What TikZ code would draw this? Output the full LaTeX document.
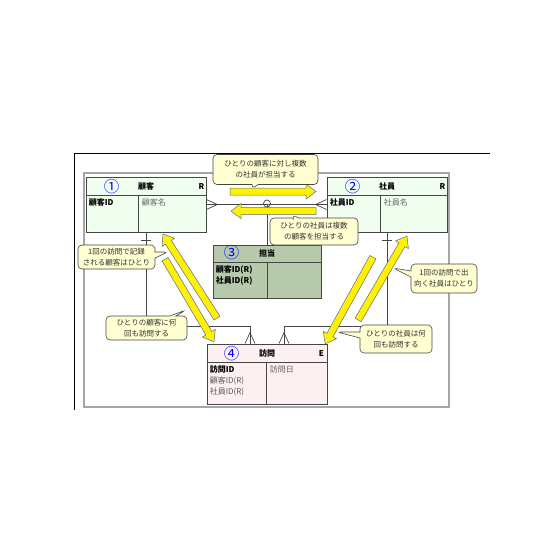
\documentclass[tikz,border=0pt]{standalone}
\usepackage{fontspec}
\setmainfont{Noto Sans CJK JP}
\usetikzlibrary{shapes.callouts}

\definecolor{entgreen}{RGB}{240,254,240}
\definecolor{tangreen}{RGB}{182,201,170}
\definecolor{entpink}{RGB}{253,240,240}
\definecolor{notefill}{RGB}{255,255,210}
\definecolor{linegray}{RGB}{70,70,70}
\definecolor{arrowedge}{RGB}{96,104,150}

\tikzset{
  entity/.style={draw=linegray, line width=0.8pt, inner sep=0pt},
  entline/.style={draw=linegray, line width=0.6pt},
  rel/.style={draw=linegray, line width=0.7pt},
  numlabel/.style={text=blue, font=\fontsize{15.5}{15.5}\selectfont, inner sep=0pt},
  enttitle/.style={font=\fontsize{8}{8}\selectfont\bfseries, inner sep=0pt},
  attr/.style={font=\fontsize{8}{11}\selectfont, align=left, inner sep=0pt, anchor=north west},
  note/.style={rectangle callout, draw=linegray, fill=notefill, rounded corners=4pt, line width=0.6pt,
    callout pointer width=6pt, align=center, inner sep=1pt, text=black!80, font=\fontsize{7.5}{11}\selectfont},
  pics/yarrow/.style={code={
    \draw[draw=arrowedge, fill=yellow, line width=0.5pt] (-#1/2,-3.5) -- (#1/2-10,-3.5) -- (#1/2-10,-7.5)
      -- (#1/2,0) -- (#1/2-10,7.5) -- (#1/2-10,3.5) -- (-#1/2,3.5) -- cycle;}},
  pics/crowfoot/.style={code={\draw[rel] (0,-5) -- (11,0) -- (0,5);}},
  pics/onemark/.style={code={\draw[rel] (8,-5) -- (8,5);}}
}

\begin{document}
\begin{tikzpicture}[x=1pt, y=-1pt]
	\useasboundingbox (0,0) rectangle (560,560);
	% frame
	\draw[black, line width=0.9pt] (74,410) -- (74,153) -- (490,153);
	\draw[gray!70, line width=1.6pt] (84,173) rectangle (449,407);
	
	% entities
	\node[entity, fill=entgreen, minimum width=120pt, minimum height=55pt] (kokyaku) at (146,204.5) {};
	\draw[entline] ([yshift=-19pt]kokyaku.north west) -- ([yshift=-19pt]kokyaku.north east);
	\draw[entline] ([xshift=53pt,yshift=-19pt]kokyaku.north west) -- ([xshift=53pt]kokyaku.south west);
	\node[numlabel] (kokyaku-num) at ([xshift=26pt,yshift=-10pt]kokyaku.north west) {①};
	\node[enttitle] (kokyaku-title) at ([yshift=-10pt]kokyaku.north) {顧客};
	\node[enttitle] (kokyaku-type) at ([xshift=-5pt,yshift=-10pt]kokyaku.north east) {R};
	\node[attr] (kokyaku-key) at ([xshift=3pt,yshift=-22pt]kokyaku.north west) {\textbf{顧客ID}};
	\node[attr, text=black!60] (kokyaku-attr) at ([xshift=56pt,yshift=-22pt]kokyaku.north west) {顧客名};
	
	\node[entity, fill=entgreen, minimum width=120pt, minimum height=55pt] (shain) at (387,204.5) {};
	\draw[entline] ([yshift=-19pt]shain.north west) -- ([yshift=-19pt]shain.north east);
	\draw[entline] ([xshift=54pt,yshift=-19pt]shain.north west) -- ([xshift=54pt]shain.south west);
	\node[numlabel] (shain-num) at ([xshift=26pt,yshift=-10pt]shain.north west) {②};
	\node[enttitle] (shain-title) at ([yshift=-10pt]shain.north) {社員};
	\node[enttitle] (shain-type) at ([xshift=-5pt,yshift=-10pt]shain.north east) {R};
	\node[attr] (shain-key) at ([xshift=3pt,yshift=-22pt]shain.north west) {\textbf{社員ID}};
	\node[attr, text=black!60] (shain-attr) at ([xshift=57pt,yshift=-22pt]shain.north west) {社員名};
	
	\node[entity, fill=tangreen, minimum width=108pt, minimum height=53pt] (tantou) at (267,271.5) {};
	\draw[entline] ([yshift=-18pt]tantou.north west) -- ([yshift=-18pt]tantou.north east);
	\draw[entline] ([xshift=55pt,yshift=-18pt]tantou.north west) -- ([xshift=55pt]tantou.south west);
	\node[numlabel] (tantou-num) at ([xshift=19pt,yshift=-8pt]tantou.north west) {③};
	\node[enttitle] (tantou-title) at ([yshift=-9pt]tantou.north) {担当};
	\node[attr, font=\fontsize{8}{10.5}\selectfont\bfseries] (tantou-key) at ([xshift=3pt,yshift=-21pt]tantou.north west) {顧客ID(R)\\社員ID(R)};
	
	\node[entity, fill=entpink, minimum width=120pt, minimum height=60pt] (houmon) at (267,374) {};
	\draw[entline] ([yshift=-19pt]houmon.north west) -- ([yshift=-19pt]houmon.north east);
	\draw[entline] ([xshift=60pt,yshift=-19pt]houmon.north west) -- ([xshift=60pt]houmon.south west);
	\node[numlabel] (houmon-num) at ([xshift=25pt,yshift=-10pt]houmon.north west) {④};
	\node[enttitle] (houmon-title) at ([yshift=-10pt]houmon.north) {訪問};
	\node[enttitle] (houmon-type) at ([xshift=-6pt,yshift=-10pt]houmon.north east) {E};
	\node[attr] (houmon-key) at ([xshift=3pt,yshift=-22pt]houmon.north west) {\textbf{訪問ID}\\\textcolor{black!65}{顧客ID(R)}\\\textcolor{black!65}{社員ID(R)}};
	\node[attr, text=black!60] (houmon-attr) at ([xshift=63pt,yshift=-22pt]houmon.north west) {訪問日};
	
	% relationships
	\draw[rel] (kokyaku.east) -- (shain.west);
	\pic at (kokyaku.east) {crowfoot};
	\pic[rotate=180] at (shain.west) {crowfoot};
	\coordinate (junction) at (tantou.north |- kokyaku.east);
	\draw[rel] (junction) -- (tantou.north);
	\draw[rel] ([yshift=1pt]junction) circle[radius=3.5pt];
	
	\draw[rel] (kokyaku.south) |- ([xshift=-17pt,yshift=17pt]houmon.north) -- ([xshift=-17pt]houmon.north);
	\draw[rel] (shain.south) |- ([xshift=17pt,yshift=17pt]houmon.north) -- ([xshift=17pt]houmon.north);
	\pic[rotate=90] at ([xshift=-17pt]houmon.north) {crowfoot};
	\pic[rotate=90] at ([xshift=17pt]houmon.north) {crowfoot};
	\pic[rotate=-90] at (kokyaku.south) {onemark};
	\pic[rotate=-90] at (shain.south) {onemark};
	
	% yellow arrows
	\pic at (273,191.5) {yarrow=86};
	\pic[rotate=180] at (273.5,211) {yarrow=85};
	\pic[rotate=122.7] at (190,276) {yarrow=100};
	\pic[rotate=-59.4] at (189.5,300.5) {yarrow=96};
	\pic[rotate=59.7] at (382.5,278) {yarrow=97};
	\pic[rotate=241.1] at (349,300.5) {yarrow=99};
	
	% notes
	\node[note, minimum width=105pt, minimum height=30pt, callout absolute pointer={(252,189)}] (note1) at (265.5,169.5) {ひとりの顧客に対し複数\\の社員が担当する};
	\node[note, minimum width=88pt, minimum height=27pt, callout absolute pointer={(292,215)}] (note2) at (314,231.5) {ひとりの社員は複数\\の顧客を担当する};
	\node[note, minimum width=77pt, minimum height=24pt, callout absolute pointer={(168,252)}] (note3) at (116.5,257) {1回の訪問で記録\\される顧客はひとり};
	\node[note, minimum width=81pt, minimum height=24pt, callout absolute pointer={(186,310)}] (note4) at (146.5,328) {ひとりの顧客に何\\回も訪問する};
	\node[note, minimum width=66pt, minimum height=29pt, callout absolute pointer={(393,268)}] (note5) at (444,278.5) {1回の訪問で出\\向く社員はひとり};
	\node[note, minimum width=72pt, minimum height=28pt, callout absolute pointer={(337,332)}] (note6) at (396,339) {ひとりの社員は何\\回も訪問する};
	
\end{tikzpicture}
\end{document}
